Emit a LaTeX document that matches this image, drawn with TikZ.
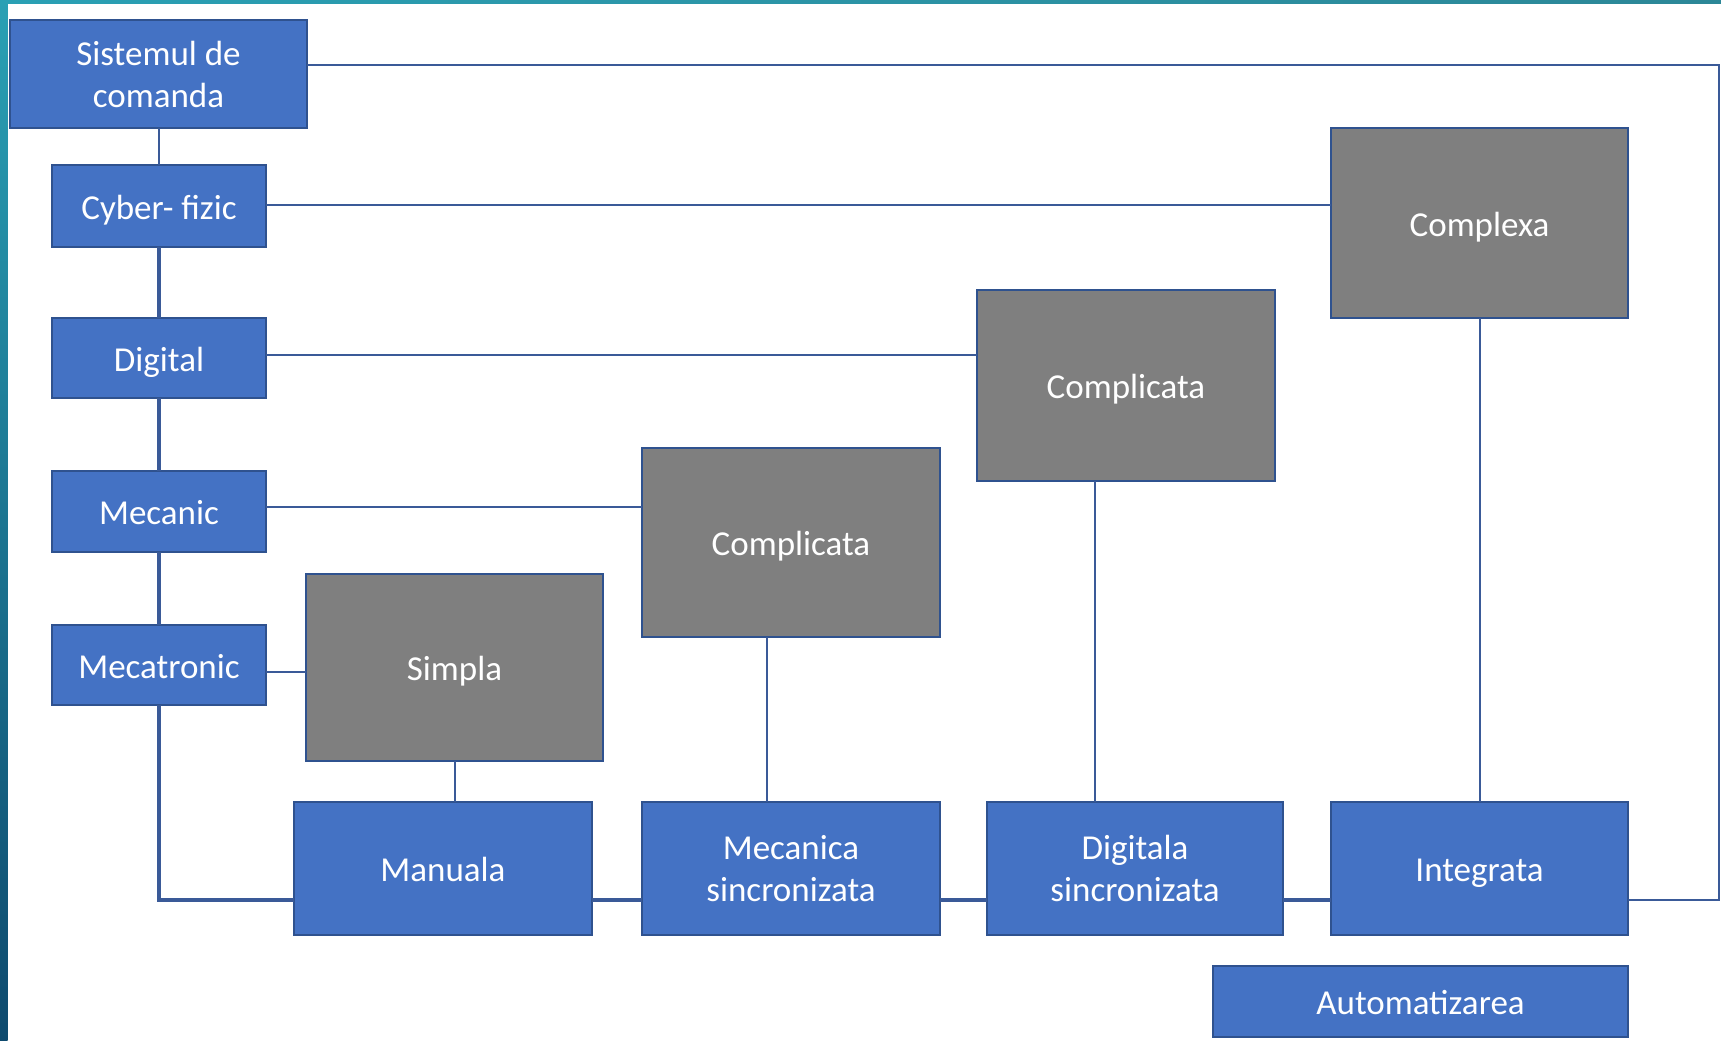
\documentclass[tikz,border=0pt]{standalone}
\usepackage{fontspec}
\setmainfont{Carlito}
\begin{document}
\begin{tikzpicture}[x=1pt,y=-1pt,
  boxbase/.style={draw=boxline, line width=1.6pt, inner sep=0pt, outer sep=0pt, anchor=north west,
    text=white, font=\fontsize{35}{42}\selectfont, align=center},
  bluebox/.style={boxbase, fill=boxblue},
  graybox/.style={boxbase, fill=boxgray},
  oneline/.style={text height=26pt, text depth=0pt},
  thinline/.style={draw=conn, line width=2pt},
  thickline/.style={draw=conn, line width=3.5pt}]
\definecolor{boxblue}{HTML}{4472C4}
\definecolor{boxgray}{HTML}{7F7F7F}
\definecolor{boxline}{HTML}{2F528F}
\definecolor{conn}{HTML}{3A5A98}
\definecolor{tealtop}{HTML}{2AA0B4}
\definecolor{tealright}{HTML}{2C8797}
\definecolor{darkbot}{HTML}{0E4A6E}
% background and frame bars
\fill[white] (0,0) rectangle (1721,1041);
\useasboundingbox (0,0) rectangle (1721,1041);
\shade[left color=tealtop, right color=tealright] (0,0) rectangle (1721,4);
\shade[top color=tealtop, bottom color=darkbot] (0,0) rectangle (7.5,1041);

% nodes
\node[bluebox, minimum width=297pt, minimum height=108pt] (sc) at (10,20) {Sistemul de\\comanda};
\node[bluebox, oneline, minimum width=214pt, minimum height=82pt] (cf) at (52,165) {Cyber- fizic};
\node[bluebox, oneline, minimum width=214pt, minimum height=80pt] (dg) at (52,318) {Digital};
\node[bluebox, oneline, minimum width=214pt, minimum height=81pt] (mc) at (52,471) {Mecanic};
\node[bluebox, oneline, minimum width=214pt, minimum height=80pt] (mt) at (52,625) {Mecatronic};

\node[graybox, oneline, minimum width=297pt, minimum height=187pt] (si) at (306,574) {Simpla};
\node[graybox, oneline, minimum width=298pt, minimum height=189pt] (c1) at (642,448) {Complicata};
\node[graybox, oneline, minimum width=298pt, minimum height=191pt] (c2) at (977,290) {Complicata};
\node[graybox, oneline, minimum width=297pt, minimum height=190pt] (cx) at (1331,128) {Complexa};

\node[bluebox, oneline, minimum width=298pt, minimum height=133pt] (ma) at (294,802) {Manuala};
\node[bluebox, minimum width=298pt, minimum height=133pt] (ms) at (642,802) {Mecanica\\sincronizata};
\node[bluebox, minimum width=296pt, minimum height=133pt] (ds) at (987,802) {Digitala\\sincronizata};
\node[bluebox, oneline, minimum width=297pt, minimum height=133pt] (in) at (1331,802) {Integrata};
\node[bluebox, oneline, minimum width=415pt, minimum height=71pt] (au) at (1213,966) {Automatizarea};

% helper coordinates
\coordinate (rowy) at (0,900);
\coordinate (rightx) at (1719,0);
\coordinate (c1x) at (767,0);
\coordinate (c2x) at (1095,0);

% connectors
\draw[thinline] (sc.south -| cf.north) -- (cf.north);
\draw[thinline] (sc.east |- 0,65) -- (rightx |- 0,65) -- (rightx |- rowy) -- (in.east |- rowy);
\draw[thinline] (cf.east |- 0,205) -- (cx.west |- 0,205);
\draw[thinline] (dg.east |- 0,355) -- (c2.west |- 0,355);
\draw[thinline] (mc.east |- 0,507) -- (c1.west |- 0,507);
\draw[thinline] (mt.east |- 0,672) -- (si.west |- 0,672);
\draw[thinline] (si.south) -- (si.south |- ma.north);
\draw[thinline] (c1x |- c1.south) -- (c1x |- ms.north);
\draw[thinline] (c2x |- c2.south) -- (c2x |- ds.north);
\draw[thinline] (cx.south) -- (cx.south |- in.north);

\draw[thickline] (cf.south) -- (dg.north);
\draw[thickline] (dg.south) -- (mc.north);
\draw[thickline] (mc.south) -- (mt.north);
\draw[thickline] (mt.south) -- (mt.south |- rowy) -- (ma.west |- rowy);
\draw[thickline] (ma.east |- rowy) -- (ms.west |- rowy);
\draw[thickline] (ms.east |- rowy) -- (ds.west |- rowy);
\draw[thickline] (ds.east |- rowy) -- (in.west |- rowy);
\end{tikzpicture}
\end{document}
